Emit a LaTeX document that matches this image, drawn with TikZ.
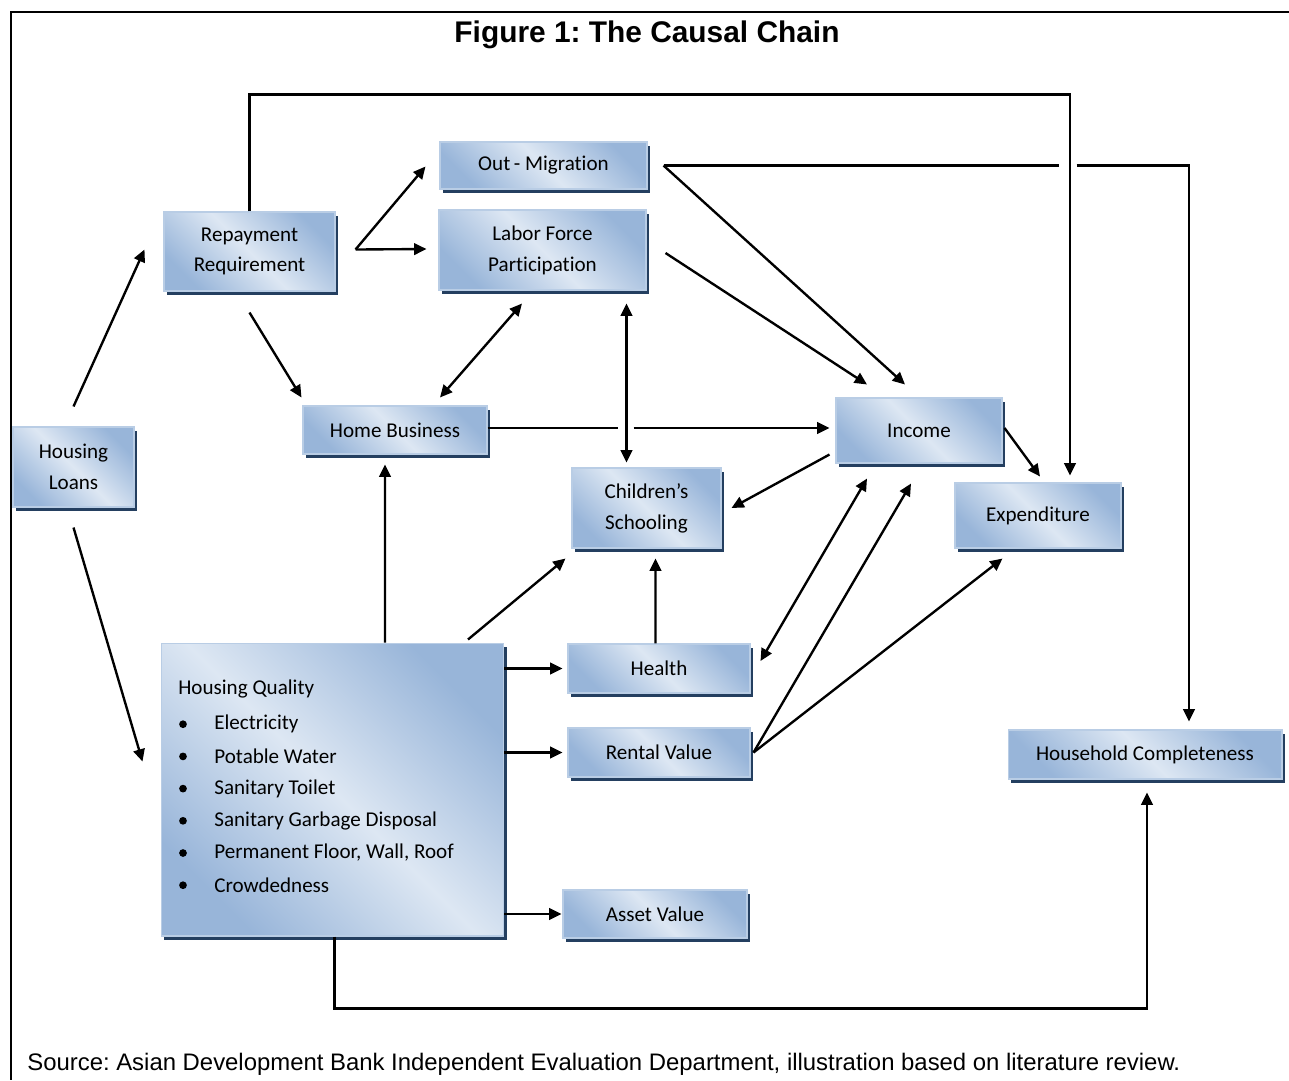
\documentclass[tikz,border=0pt]{standalone}
\usepackage{fontspec}
\setmainfont[Ligatures=NoCommon]{Carlito}
\newfontfamily\arialfont{Liberation Sans}
\usetikzlibrary{arrows.meta,shadows}
\definecolor{boxdark}{HTML}{98B5D9}
\definecolor{boxlight}{HTML}{DDE7F3}
\definecolor{boxedge}{HTML}{B9CDE5}
\definecolor{boxshadow}{HTML}{243F60}
\frenchspacing

\tikzset{
  cbox/.style={draw=boxedge, line width=.6pt, top color=boxdark, bottom color=boxdark,
    middle color=boxlight, shading angle=-45, inner sep=0pt,
    drop shadow={shadow xshift=1.5pt, shadow yshift=-2pt, fill=boxshadow, opacity=1}},
  conn/.style={line width=1.35pt},
  arr/.style={conn, ->},
  biarr/.style={conn, <->},
}

\begin{document}
\begin{tikzpicture}[x=0.02cm, y=-0.02cm, >={Triangle[length=7pt,width=6.5pt]},
  every node/.style={font=\fontsize{12}{17.5}\selectfont, align=center}]
\useasboundingbox (0,0) rectangle (1289,1080);
\draw[line width=1.4pt] (1289,12) -- (11,12) -- (11,1080);
\node[anchor=base, font=\arialfont\bfseries\fontsize{17}{20}\selectfont] (title) at (647,42) {Figure 1: The Causal Chain};

% boxes
\node[cbox, minimum width=24.2mm, minimum height=16mm] (loans) at (73.5,467) {Housing\\Loans};
\node[cbox, minimum width=34.2mm, minimum height=15.8mm] (repay) at (249.5,251.5) {Repayment\\Requirement};
\node[cbox, minimum width=41.4mm, minimum height=9.4mm] (outmig) at (543.5,165.5) {Out\,- Migration};
\node[cbox, minimum width=41.4mm, minimum height=16mm] (labor) at (542.5,250) {Labor Force\\Participation};
\node[cbox, minimum width=36.8mm, minimum height=9.6mm] (homebiz) at (395,430) {Home Business};
\node[cbox, minimum width=33.2mm, minimum height=13mm] (income) at (919,430.5) {Income};
\node[cbox, minimum width=29.8mm, minimum height=16mm] (school) at (646.5,508) {Children’s\\Schooling};
\node[cbox, minimum width=33.2mm, minimum height=13mm] (expend) at (1038,515.5) {Expenditure};
\node[cbox, minimum width=68.6mm, minimum height=58.6mm] (quality) at (332.5,789.5) {};
\node[cbox, minimum width=36.4mm, minimum height=9.8mm] (health) at (659,668.5) {Health};
\node[cbox, minimum width=36.4mm, minimum height=9.8mm] (rental) at (659,752.5) {Rental Value};
\node[cbox, minimum width=36.8mm, minimum height=9.6mm] (asset) at (655,914) {Asset Value};
\node[cbox, minimum width=54.8mm, minimum height=9.8mm] (household) at (1145,754.5) {Household Completeness};

% housing quality list
\node[anchor=west, inner sep=0pt] (hqtitle) at (178,689) {Housing Quality};
\foreach \feature [count=\i] in {Electricity, Potable Water, Sanitary Toilet, Sanitary Garbage Disposal, {Permanent Floor, Wall, Roof}, Crowdedness} {
  \fill (183,{692+32.2*\i}) circle[radius=2.2pt];
  \node[anchor=west, inner sep=0pt] (hqitem\i) at (214,{692+32.2*\i}) {\feature};
}

% connectors
\coordinate (fork) at ([shift={(20,-2)}]repay.east);
\coordinate (rentout) at ([shift={(3,0)}]rental.east);
\draw[arr] ([shift={(0,-20)}]loans.north) -- ([shift={(-19,-2)}]repay.west);
\draw[arr] ([shift={(0,20)}]loans.south) -- ([shift={(-18,-28)}]quality.west);
\draw[arr] (fork) -- ([shift={(-14,1)}]outmig.west);
\draw[arr] (fork) -- ([shift={(-12,-1)}]labor.west);
\draw[arr] (repay.north) -- ++(0,-117) -| ([shift={(32,-7)}]expend.north);
\draw[arr] ([shift={(0,21)}]repay.south) -- ([shift={(-1,-8)}]homebiz.north west);
\draw[biarr] ([shift={(45,-8)}]homebiz.north) -- ([shift={(-20.5,13)}]labor.south);
\draw[biarr] ([shift={(84,13)}]labor.south) -- ([shift={(-20,-5)}]school.north);
\draw[conn] ([shift={(0,-2)}]homebiz.east) -- ++(130,0);
\draw[arr] ([shift={(146,-2)}]homebiz.east) -- ([shift={(-6,-2.5)}]income.west);
\draw[arr] ([shift={(16,0)}]outmig.east) -- ([shift={(-14,-13)}]income.north);
\draw[arr] ([shift={(19,3)}]labor.east) -- ([shift={(-52,-13)}]income.north);
\draw[conn] ([shift={(16,0)}]outmig.east) -- ++(395,0);
\draw[arr] ([shift={(429,0)}]outmig.east) -| ([shift={(44,-8)}]household.north);
\draw[arr] ([shift={(2,-2.5)}]income.east) -- ([shift={(2,-6)}]expend.north);
\draw[arr] ([shift={(-6,-9)}]income.south west) -- ([shift={(10,0)}]school.east);
\draw[arr] ([shift={(52.5,0)}]quality.north) -- ([shift={(-10,10)}]homebiz.south);
\draw[arr] ([shift={(135.5,-3)}]quality.north) -- ([shift={(-6,10)}]school.south west);
\draw[arr] ([shift={(-3.5,0)}]health.north) -- ([shift={(9,10)}]school.south);
\draw[arr] (quality.east |- health) -- ([shift={(-5,0)}]health.west);
\draw[arr] (quality.east |- rental) -- ([shift={(-5,0)}]rental.west);
\draw[arr] (quality.east |- asset) -- ([shift={(-1,0)}]asset.west);
\draw[biarr] ([shift={(-52,15)}]income.south) -- ([shift={(10,-7.5)}]health.east);
\draw[arr] (rentout) -- ([shift={(-8,20)}]income.south);
\draw[arr] (rentout) -- ([shift={(48,10)}]expend.south west);
\draw[arr] ([shift={(2,0)}]quality.south) -- ++(0,72) -| ([shift={(2,13)}]household.south);

\node[anchor=base west, inner sep=0pt, font=\arialfont\fontsize{13.6}{16}\selectfont] (source) at (27,1070) {Source: Asian Development Bank Independent Evaluation Department, illustration based on literature review.};
\end{tikzpicture}
\end{document}
